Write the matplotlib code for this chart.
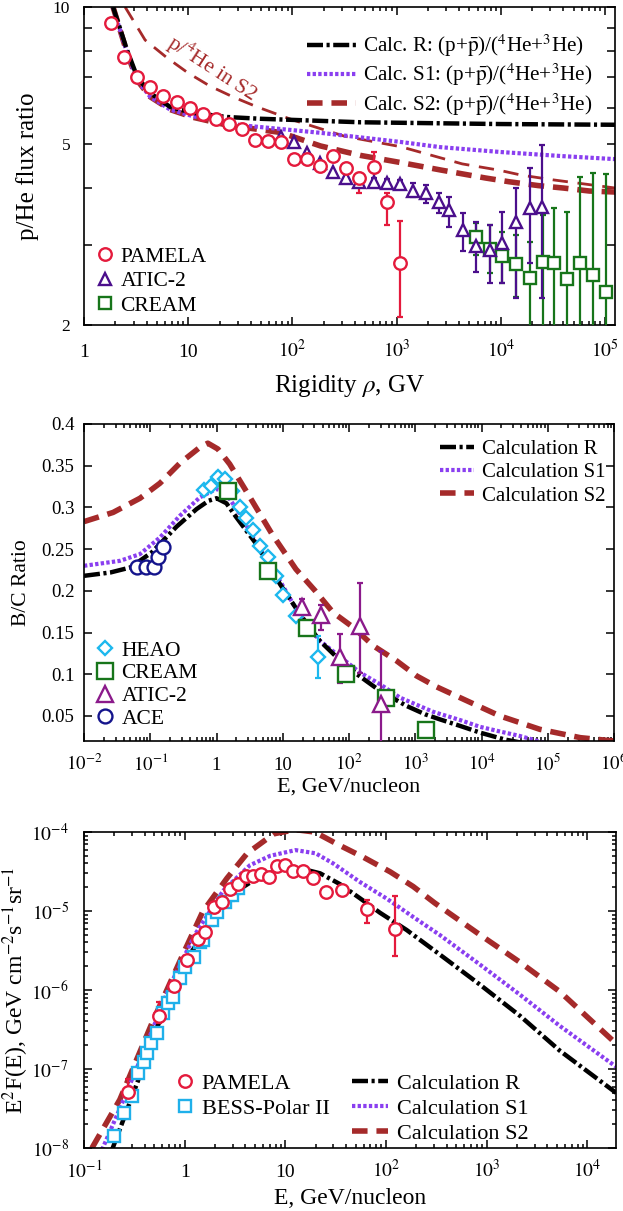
import numpy as np
import matplotlib
matplotlib.use('Agg')
import matplotlib.pyplot as plt
from matplotlib.ticker import FixedLocator, FuncFormatter, LogLocator, NullFormatter, NullLocator
from matplotlib.lines import Line2D

plt.rcParams['font.family'] = ['Liberation Serif', 'DejaVu Serif']
plt.rcParams['mathtext.fontset'] = 'stix'
plt.rcParams['axes.linewidth'] = 1.2

# colours
RED = '#e41a3c'
INDIGO = '#4b0f8c'
GREEN = '#17751a'
SKY = '#1cb8ee'
PURP = '#8b1a8b'
NAVY = '#14148c'
BESS = '#1fb0ea'
C_R = '#000000'
C_S1 = '#8a3ff0'
C_S2 = '#a52a2a'

LS_R = (0, (3.6, 0.8, 0.7, 0.8))
LS_S1 = (0, (0.8, 0.55))
LS_S2 = (0, (2.8, 1.6))
LW_R, LW_S1, LW_S2 = 3.2, 3.0, 4.0

# ---------------- panel 1: p/He ----------------
pam_R = [1.82, 2.43, 3.24, 4.31, 5.75, 7.73, 10.4, 13.9, 18.6, 24.8, 33.0, 44.1,
         58.7, 78.3, 104, 139, 186, 248, 330, 441, 601, 802, 1070]
pam_v = [9.22, 7.76, 7.02, 6.67, 6.37, 6.18, 6.0, 5.82, 5.67, 5.53, 5.39, 5.10,
         5.08, 5.05, 4.63, 4.63, 4.47, 4.71, 4.43, 4.21, 4.45, 3.73, 2.74]
pam_lo = [9.22, 7.76, 7.02, 6.67, 6.37, 6.18, 6.0, 5.82, 5.67, 5.53, 5.39, 5.10,
          5.08, 5.05, 4.63, 4.63, 4.47, 4.60, 4.32, 3.90, 4.10, 3.32, 2.08]
pam_hi = [9.22, 7.76, 7.02, 6.67, 6.37, 6.18, 6.0, 5.82, 5.67, 5.53, 5.39, 5.10,
          5.08, 5.05, 4.63, 4.63, 4.47, 4.82, 4.49, 4.32, 4.80, 3.90, 3.38]

atic_R = [78.3, 104, 139, 186, 248, 330, 441, 601, 802, 1070, 1430, 1900, 2540,
          3200, 4310, 5820, 7830, 10400, 13900, 18900, 25100]
atic_v = [5.18, 5.05, 4.78, 4.54, 4.34, 4.21, 4.13, 4.13, 4.10, 4.08, 3.94, 3.90,
          3.73, 3.58, 3.24, 2.98, 2.92, 3.03, 3.36, 3.61, 3.63]
atic_lo = [5.18, 5.05, 4.78, 4.54, 4.34, 4.13, 4.05, 4.05, 4.02, 4.00, 3.83, 3.71,
           3.53, 3.29, 2.91, 2.62, 2.47, 2.47, 2.29, 2.74, 2.29]
atic_hi = [5.18, 5.05, 4.78, 4.54, 4.34, 4.29, 4.21, 4.21, 4.18, 4.16, 4.10, 4.06,
           3.90, 3.83, 3.53, 3.37, 3.32, 3.55, 4.00, 4.43, 4.98]

cream_R = [5750, 7830, 10400, 13900, 18900, 25200, 32400, 43200, 57500, 76700, 102000]
cream_v = [3.12, 2.94, 2.84, 2.72, 2.54, 2.75, 2.74, 2.53, 2.74, 2.58, 2.36]
cream_lo = [2.85, 2.60, 2.47, 2.30, 1.5, 1.5, 1.5, 1.5, 1.5, 1.5, 1.5]
cream_hi = [3.35, 3.32, 3.20, 3.15, 3.04, 3.49, 3.62, 3.55, 4.24, 4.32, 4.30]

calcR_R = [1.9, 2.59, 3.24, 4.31, 6.71, 11.2, 23.7, 49.2, 451, 10000, 126000]
calcR_v = [10.0, 8.04, 7.02, 6.47, 6.03, 5.85, 5.73, 5.68, 5.58, 5.53, 5.51]
calcS1_R = [1.9, 2.6, 3.24, 4.31, 6.71, 11.2, 23.7, 31.6, 186, 1100, 2630, 10000,
            40000, 126000]
calcS1_v = [10.0, 7.9, 6.9, 6.35, 5.95, 5.75, 5.58, 5.5, 5.29, 5.05, 4.92, 4.8,
            4.7, 4.63]
calcS2_R = [1.9, 2.6, 3.24, 4.31, 6.71, 11.2, 23.7, 76.7, 186, 447, 1100, 2690,
            7080, 12000, 22900, 40000, 71000, 126000]
calcS2_v = [10.0, 7.9, 6.9, 6.35, 5.95, 5.72, 5.5, 5.3, 4.95, 4.72, 4.55, 4.38,
            4.21, 4.13, 4.05, 4.0, 3.94, 3.92]
he4_R = [2.48, 3.86, 6.28, 10, 16.2, 27.1, 46, 100, 316, 1100, 4270, 9550, 15800,
         31600, 126000]
he4_v = [10.0, 8.46, 7.73, 7.16, 6.7, 6.34, 6.03, 5.65, 5.2, 4.93, 4.52, 4.38,
         4.27, 4.17, 4.0]

# ---------------- panel 2: B/C ----------------
heao_E = [0.647, 0.832, 1.05, 1.33, 1.71, 2.26, 2.79, 3.53, 4.54, 5.98, 7.91, 10.2, 15.9, 34.4]
heao_v = [0.321, 0.326, 0.337, 0.334, 0.320, 0.300, 0.287, 0.273, 0.254, 0.241,
          0.218, 0.195, 0.170, 0.121]
heao_err = [0, 0.006, 0.006, 0.006, 0, 0, 0, 0, 0, 0, 0, 0, 0, 0.025]

bc_cream_E = [1.49, 5.98, 22.9, 90.2, 361, 1440]
bc_cream_v = [0.320, 0.224, 0.155, 0.100, 0.071, 0.033]

bc_atic_E = [19.7, 37.8, 73.1, 147, 301]
bc_atic_v = [0.181, 0.171, 0.121, 0.158, 0.064]
bc_atic_lo = [0.172, 0.153, 0.090, 0.102, 0.0]
bc_atic_hi = [0.190, 0.183, 0.148, 0.209, 0.128]

ace_E = [0.0624, 0.0863, 0.115, 0.129, 0.157]
ace_v = [0.229, 0.229, 0.229, 0.241, 0.253]

bcR_E = [0.01, 0.025, 0.05, 0.105, 0.25, 0.5, 0.76, 1.0, 1.41, 2.0, 4.0, 9.1, 18.2,
         36.3, 72.4, 132, 295, 741, 1410, 2340, 4790, 9550, 21900, 39800]
bcR_v = [0.218, 0.222, 0.228, 0.246, 0.277, 0.298, 0.308, 0.311, 0.305, 0.288,
         0.256, 0.208, 0.172, 0.140, 0.117, 0.100, 0.080, 0.062, 0.052, 0.046,
         0.038, 0.030, 0.022, 0.018]
bcS1_E = [0.01, 0.035, 0.07, 0.14, 0.28, 0.56, 0.98, 1.3, 2.26, 3.94, 9.08, 18.2,
          36.5, 147, 295, 589, 1860, 4790, 9480, 20000, 38000, 87000]
bcS1_v = [0.230, 0.236, 0.244, 0.264, 0.290, 0.312, 0.322, 0.320, 0.292, 0.258,
          0.212, 0.170, 0.140, 0.102, 0.088, 0.072, 0.055, 0.045, 0.037, 0.031,
          0.026, 0.018]
bcS2_E = [0.01, 0.0275, 0.07, 0.14, 0.28, 0.56, 0.74, 1.05, 1.58, 2.99, 6.89, 15.8,
          30.9, 57.5, 117, 234, 525, 1050, 2090, 4730, 19000, 76000, 310000, 1000000]
bcS2_v = [0.283, 0.294, 0.311, 0.329, 0.353, 0.372, 0.377, 0.370, 0.352, 0.316,
          0.268, 0.226, 0.200, 0.174, 0.156, 0.134, 0.116, 0.098, 0.085, 0.072,
          0.050, 0.034, 0.024, 0.020]

# ---------------- panel 3: antiprotons ----------------
pb_pam_E = [0.275, 0.556, 0.79, 1.05, 1.36, 1.59, 1.95, 2.33, 2.82, 3.41, 4.04, 4.81,
            5.7, 6.88, 8.19, 9.9, 12.0, 14.9, 18.9, 25.1, 36.2, 64.1, 122]
pb_pam_v = [5.19e-8, 4.7e-7, 1.12e-6, 2.4e-6, 4.36e-6, 5.45e-6, 1.11e-5, 1.3e-5,
            1.89e-5, 2.19e-5, 2.76e-5, 2.76e-5, 2.98e-5, 2.7e-5, 3.71e-5, 3.87e-5,
            3.21e-5, 3.21e-5, 2.58e-5, 1.75e-5, 1.87e-5, 1.05e-5, 6.0e-6]
pb_pam_lo = [3.9e-8, 3.8e-7, 1.12e-6, 2.4e-6, 4.36e-6, 5.45e-6, 1.11e-5, 1.3e-5,
             1.89e-5, 2.19e-5, 2.76e-5, 2.76e-5, 2.98e-5, 2.7e-5, 3.71e-5, 3.87e-5,
             3.21e-5, 3.21e-5, 2.58e-5, 1.6e-5, 1.7e-5, 7.1e-6, 2.69e-6]
pb_pam_hi = [7.4e-8, 7.1e-7, 1.12e-6, 2.4e-6, 4.36e-6, 5.45e-6, 1.11e-5, 1.3e-5,
             1.89e-5, 2.19e-5, 2.76e-5, 2.76e-5, 2.98e-5, 2.7e-5, 3.71e-5, 3.87e-5,
             3.21e-5, 3.21e-5, 2.58e-5, 1.9e-5, 2.05e-5, 1.37e-5, 1.54e-5]

bess_E = [0.2, 0.25, 0.298, 0.347, 0.395, 0.42, 0.46, 0.527, 0.614, 0.688, 0.77, 0.9,
          1.0, 1.24, 1.42, 1.53, 1.85, 2.08, 2.51, 2.93, 3.41]
bess_v = [1.43e-8, 2.77e-8, 4.58e-8, 9.0e-8, 1.21e-7, 1.61e-7, 2.12e-7, 2.89e-7,
          5.07e-7, 6.8e-7, 8.2e-7, 1.4e-6, 1.97e-6, 2.64e-6, 4.1e-6, 4.28e-6,
          7.7e-6, 9.8e-6, 1.31e-5, 1.58e-5, 1.93e-5]

pbR_E = [0.19, 0.36, 0.68, 1.12, 2.24, 3.54, 5.6, 8.8, 14, 22.1, 34.8, 55, 87, 160,
         343, 855, 2140, 5330, 19200]
pbR_v = [9.5e-9, 8.3e-8, 7.9e-7, 2.8e-6, 1.05e-5, 1.9e-5, 2.75e-5, 3.3e-5, 3.47e-5,
         3.0e-5, 2.19e-5, 1.45e-5, 9.5e-6, 5.75e-6, 2.8e-6, 1.17e-6, 4.7e-7, 1.7e-7,
         5.0e-8]
pbS1_E = [0.151, 0.227, 0.4, 0.71, 1.26, 2.42, 4.45, 7.08, 12.6, 20, 30, 55, 101,
          186, 343, 855, 2140, 5330, 19200]
pbS1_v = [9.5e-9, 3.16e-8, 1.78e-7, 1.12e-6, 5.0e-6, 1.82e-5, 3.8e-5, 5.0e-5,
          5.9e-5, 5.37e-5, 3.98e-5, 2.33e-5, 1.44e-5, 8.4e-6, 4.95e-6, 2.1e-6,
          8.7e-7, 3.5e-7, 1.07e-7]
pbS2_E = [0.12, 0.227, 0.473, 1.0, 1.51, 2.63, 4.17, 7.7, 12.6, 19.5, 34.7, 58.9,
          110, 186, 305, 855, 2140, 5330, 19200]
pbS2_v = [1e-8, 4.1e-8, 3.8e-7, 3.16e-6, 9.8e-6, 2.6e-5, 5.37e-5, 9.5e-5, 1.07e-4,
          1.0e-4, 6.76e-5, 4.83e-5, 3.13e-5, 2.04e-5, 1.26e-5, 5.0e-6, 2.24e-6,
          9.5e-7, 2.1e-7]

W, H = 623, 1211
fig = plt.figure(figsize=(W / 100, H / 100), dpi=100)


def axes_px(left, top, right, bottom):
    return fig.add_axes([left / W, 1 - bottom / H, (right - left) / W, (bottom - top) / H])


def dec_label(v, pos):
    e = int(round(np.log10(v)))
    if e == 0:
        return '1'
    if e == 1:
        return '10'
    return r'$10^{%d}$' % e


def sci_label(v, pos):
    e = int(round(np.log10(v)))
    return r'$10^{%d}$' % e


def style(ax, xpad, ypad, fs):
    ax.tick_params(which='both', direction='in', top=True, right=True, labelsize=fs, width=1.1)
    ax.tick_params(which='major', length=6)
    ax.tick_params(which='minor', length=3)
    ax.tick_params(axis='x', pad=xpad)
    ax.tick_params(axis='y', pad=ypad)


def errbars(ax, x, v, lo, hi, color):
    x = np.asarray(x, float)
    v = np.asarray(v, float)
    lo = np.asarray(lo, float)
    hi = np.asarray(hi, float)
    m = (hi - lo) > 1e-12
    ax.errorbar(x[m], v[m], yerr=[v[m] - lo[m], hi[m] - v[m]], fmt='none', ecolor=color,
                elinewidth=1.6, capsize=2.5, capthick=1.6, zorder=3)


mk = dict(mfc='white', mew=1.7, linestyle='none', zorder=4)

# ======== panel 1 ========
ax1 = axes_px(84, 7, 615, 325)
ax1.set_xscale('log')
ax1.set_yscale('log')
ax1.set_xlim(1, 1.25e5)
ax1.set_ylim(2, 10)

ax1.plot(he4_R, he4_v, color=C_S2, lw=2.0, ls=(0, (5.5, 3.5)), zorder=2)
ax1.plot(calcS2_R, calcS2_v, color=C_S2, lw=LW_S2, ls=LS_S2, zorder=2)
ax1.plot(calcS1_R, calcS1_v, color=C_S1, lw=LW_S1, ls=LS_S1, zorder=2)
ax1.plot(calcR_R, calcR_v, color=C_R, lw=LW_R, ls=LS_R, zorder=2)

errbars(ax1, cream_R, cream_v, cream_lo, cream_hi, GREEN)
errbars(ax1, atic_R, atic_v, atic_lo, atic_hi, INDIGO)
errbars(ax1, pam_R, pam_v, pam_lo, pam_hi, RED)
ax1.plot(cream_R, cream_v, marker='s', ms=9, mec=GREEN, **mk)
ax1.plot(atic_R, atic_v, marker='^', ms=9, mec=INDIGO, **mk)
ax1.plot(pam_R, pam_v, marker='o', ms=9, mec=RED, **mk)

ax1.text(17, 7.35, r'p/$^4$He in S2', color=C_S2, fontsize=15.5, rotation=-33,
         ha='center', va='center', rotation_mode='anchor')

ax1.xaxis.set_major_locator(FixedLocator([1, 10, 1e2, 1e3, 1e4, 1e5]))
ax1.xaxis.set_major_formatter(FuncFormatter(dec_label))
ax1.xaxis.set_minor_locator(LogLocator(base=10, subs=np.arange(2, 10), numticks=20))
ax1.xaxis.set_minor_formatter(NullFormatter())
ax1.yaxis.set_major_locator(FixedLocator([2, 3, 4, 5, 6, 7, 8, 9, 10]))
ax1.yaxis.set_major_formatter(FuncFormatter(lambda v, p: '%d' % v if v in (2, 5, 10) else ''))
ax1.yaxis.set_minor_locator(NullLocator())
style(ax1, 23, 10, 14)
ax1.tick_params(axis='y', labelsize=12.5)
plt.setp(ax1.get_xticklabels(), va='baseline')

ax1.set_xlabel(r'Rigidity $\rho$, GV', fontsize=18)
ax1.set_ylabel('p/He flux ratio', fontsize=18)
ax1.xaxis.set_label_coords(0.5, -0.15)
ax1.yaxis.set_label_coords(-0.085, 0.5)

lab = r'(p+$\bar{\rm p}$)/($^4$He+$^3$He)'
h1 = [Line2D([], [], color=C_R, lw=LW_R, ls=LS_R),
      Line2D([], [], color=C_S1, lw=LW_S1, ls=LS_S1),
      Line2D([], [], color=C_S2, lw=LW_S2, ls=LS_S2)]
leg = ax1.legend(h1, ['Calc. R: ' + lab, 'Calc. S1: ' + lab, 'Calc. S2: ' + lab],
                 loc='upper right', bbox_to_anchor=(603 / W, 1 - 22 / H),
                 bbox_transform=fig.transFigure, frameon=False, fontsize=15.2,
                 handlelength=2.3, handletextpad=0.35, labelspacing=0.12, borderpad=0)
ax1.add_artist(leg)
h1b = [Line2D([], [], marker='o', ms=9, mec=RED, mfc='white', mew=1.7, ls='none'),
       Line2D([], [], marker='^', ms=9, mec=INDIGO, mfc='white', mew=1.7, ls='none'),
       Line2D([], [], marker='s', ms=9, mec=GREEN, mfc='white', mew=1.7, ls='none')]
ax1.legend(h1b, ['PAMELA', 'ATIC-2', 'CREAM'], loc='upper left',
           bbox_to_anchor=(86 / W, 1 - 236 / H), bbox_transform=fig.transFigure,
           frameon=False, fontsize=15.5, handlelength=0.8, handletextpad=0.3,
           labelspacing=0.2, borderpad=0)

# ======== panel 2 ========
ax2 = axes_px(84, 424, 614, 741)
ax2.set_xscale('log')
ax2.set_xlim(1e-2, 1e6)
ax2.set_ylim(0.02, 0.4)

ax2.plot(bcS2_E, bcS2_v, color=C_S2, lw=LW_S2, ls=LS_S2, zorder=2)
ax2.plot(bcS1_E, bcS1_v, color=C_S1, lw=LW_S1, ls=LS_S1, zorder=2)
ax2.plot(bcR_E, bcR_v, color=C_R, lw=LW_R, ls=LS_R, zorder=2)

heao_v_a = np.asarray(heao_v)
heao_e_a = np.asarray(heao_err)
errbars(ax2, heao_E, heao_v, heao_v_a - heao_e_a, heao_v_a + heao_e_a, SKY)
errbars(ax2, bc_atic_E, bc_atic_v, bc_atic_lo, bc_atic_hi, PURP)
ace_v_a = np.asarray(ace_v)
errbars(ax2, ace_E, ace_v, ace_v_a - 0.006, ace_v_a + 0.006, NAVY)
ax2.plot(heao_E, heao_v, marker='D', ms=7.5, mec=SKY, **mk)
ax2.plot(bc_cream_E, bc_cream_v, marker='s', ms=11, mec=GREEN, **mk)
ax2.plot(bc_atic_E, bc_atic_v, marker='^', ms=11, mec=PURP, **mk)
ax2.plot(ace_E, ace_v, marker='o', ms=10, mec=NAVY, **mk)

ax2.xaxis.set_major_locator(FixedLocator([10.0 ** k for k in range(-2, 7)]))
ax2.xaxis.set_major_formatter(FuncFormatter(dec_label))
ax2.xaxis.set_minor_locator(LogLocator(base=10, subs=np.arange(2, 10), numticks=20))
ax2.xaxis.set_minor_formatter(NullFormatter())
ax2.yaxis.set_major_locator(FixedLocator([0.05, 0.1, 0.15, 0.2, 0.25, 0.3, 0.35, 0.4]))
ax2.yaxis.set_major_formatter(FuncFormatter(lambda v, p: '%g' % round(v, 2)))
style(ax2, 21, 7, 13.5)
plt.setp(ax2.get_xticklabels(), va='baseline')

ax2.set_xlabel('E, GeV/nucleon', fontsize=16)
ax2.set_ylabel('B/C Ratio', fontsize=15.5)
ax2.xaxis.set_label_coords(0.5, -0.115)
ax2.yaxis.set_label_coords(-0.1, 0.5)

h2 = [Line2D([], [], color=C_R, lw=LW_R, ls=LS_R),
      Line2D([], [], color=C_S1, lw=LW_S1, ls=LS_S1),
      Line2D([], [], color=C_S2, lw=LW_S2, ls=LS_S2)]
leg = ax2.legend(h2, ['Calculation R', 'Calculation S1', 'Calculation S2'],
                 loc='upper left', bbox_to_anchor=(430 / W, 1 - 429 / H),
                 bbox_transform=fig.transFigure, frameon=False, fontsize=15,
                 handlelength=1.6, handletextpad=0.4, labelspacing=0.18, borderpad=0)
ax2.add_artist(leg)
h2b = [Line2D([], [], marker='D', ms=7.5, mec=SKY, mfc='white', mew=1.7, ls='none'),
       Line2D([], [], marker='s', ms=11, mec=GREEN, mfc='white', mew=1.7, ls='none'),
       Line2D([], [], marker='^', ms=11, mec=PURP, mfc='white', mew=1.7, ls='none'),
       Line2D([], [], marker='o', ms=10, mec=NAVY, mfc='white', mew=1.7, ls='none')]
ax2.legend(h2b, ['HEAO', 'CREAM', 'ATIC-2', 'ACE'], loc='upper left',
           bbox_to_anchor=(86 / W, 1 - 630 / H), bbox_transform=fig.transFigure,
           frameon=False, fontsize=15.5, handlelength=0.8, handletextpad=0.35,
           labelspacing=0.12, borderpad=0)

# ======== panel 3 ========
ax3 = axes_px(84, 832, 616, 1148)
ax3.set_xscale('log')
ax3.set_yscale('log')
ax3.set_xlim(0.1, 1.92e4)
ax3.set_ylim(1e-8, 1e-4)

ax3.plot(pbS2_E, pbS2_v, color=C_S2, lw=LW_S2, ls=LS_S2, zorder=2)
ax3.plot(pbS1_E, pbS1_v, color=C_S1, lw=LW_S1, ls=LS_S1, zorder=2)
ax3.plot(pbR_E, pbR_v, color=C_R, lw=LW_R, ls=LS_R, zorder=2)

bess_v_a = np.asarray(bess_v)
errbars(ax3, bess_E, bess_v, bess_v_a * 0.85, bess_v_a * 1.15, BESS)
errbars(ax3, pb_pam_E, pb_pam_v, pb_pam_lo, pb_pam_hi, RED)
ax3.plot(bess_E, bess_v, marker='s', ms=9, mec=BESS, **mk)
ax3.plot(pb_pam_E, pb_pam_v, marker='o', ms=9, mec=RED, **mk)

ax3.xaxis.set_major_locator(FixedLocator([10.0 ** k for k in range(-1, 5)]))
ax3.xaxis.set_major_formatter(FuncFormatter(dec_label))
ax3.xaxis.set_minor_locator(LogLocator(base=10, subs=np.arange(2, 10), numticks=20))
ax3.xaxis.set_minor_formatter(NullFormatter())
ax3.yaxis.set_major_locator(FixedLocator([10.0 ** k for k in range(-8, -3)]))
ax3.yaxis.set_major_formatter(FuncFormatter(sci_label))
ax3.yaxis.set_minor_locator(LogLocator(base=10, subs=np.arange(2, 10), numticks=20))
ax3.yaxis.set_minor_formatter(NullFormatter())
style(ax3, 21, 11, 14)
plt.setp(ax3.get_xticklabels(), va='baseline')

ax3.set_xlabel('E, GeV/nucleon', fontsize=17)
ax3.set_ylabel(r'E$^2$F(E), GeV cm$^{-2}$s$^{-1}$sr$^{-1}$', fontsize=17)
ax3.xaxis.set_label_coords(0.5, -0.125)
ax3.yaxis.set_label_coords(-0.1, 0.5)

h3b = [Line2D([], [], marker='o', ms=9, mec=RED, mfc='white', mew=1.7, ls='none'),
       Line2D([], [], marker='s', ms=9, mec=BESS, mfc='white', mew=1.7, ls='none')]
leg = ax3.legend(h3b, ['PAMELA', 'BESS-Polar II'], loc='upper left',
                 bbox_to_anchor=(165 / W, 1 - 1062 / H), bbox_transform=fig.transFigure,
                 frameon=False, fontsize=16, handlelength=0.8, handletextpad=0.35,
                 labelspacing=0.2, borderpad=0)
ax3.add_artist(leg)
h3 = [Line2D([], [], color=C_R, lw=LW_R, ls=LS_R),
      Line2D([], [], color=C_S1, lw=LW_S1, ls=LS_S1),
      Line2D([], [], color=C_S2, lw=LW_S2, ls=LS_S2)]
ax3.legend(h3, ['Calculation R', 'Calculation S1', 'Calculation S2'], loc='upper left',
           bbox_to_anchor=(341 / W, 1 - 1062 / H), bbox_transform=fig.transFigure,
           frameon=False, fontsize=16, handlelength=1.6, handletextpad=0.4,
           labelspacing=0.2, borderpad=0)

fig.savefig('out.png', dpi=100)
